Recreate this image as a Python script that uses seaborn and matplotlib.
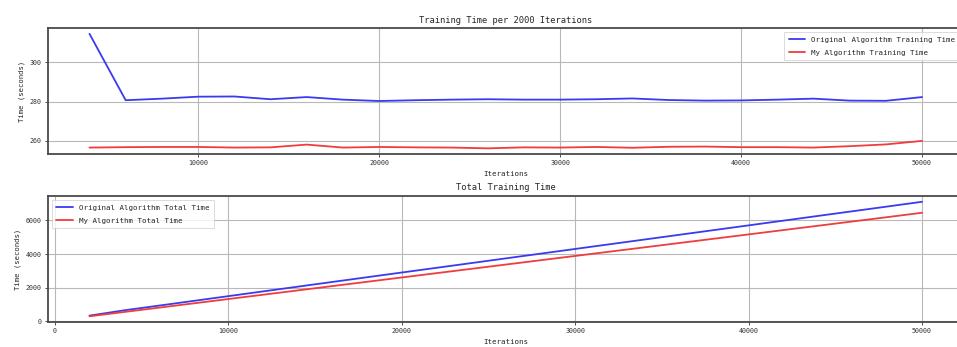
import numpy as np
import pandas as pd
import matplotlib
matplotlib.use("Agg")
import matplotlib.pyplot as plt
import seaborn as sns

# iterations for the per-2000 plot (first interval not drawn there)
iters_step = list(range(4000, 50001, 2000))
orig_step = [314.5, 280.7, 281.5, 282.5, 282.6, 281.2, 282.3, 281.0, 280.3, 280.7,
             281.0, 281.2, 281.0, 281.0, 281.2, 281.6, 280.8, 280.5, 280.6, 281.0,
             281.5, 280.5, 280.4, 282.3]
mine_step = [256.6, 256.8, 256.9, 256.9, 256.6, 256.7, 258.1, 256.6, 256.9, 256.7,
             256.6, 256.2, 256.7, 256.6, 256.9, 256.5, 257.0, 257.1, 256.8, 256.8,
             256.6, 257.3, 258.2, 260.0]

iters_total = list(range(2000, 50001, 2000))
orig_total = [330, 645, 925, 1207, 1489, 1772, 2053, 2335, 2616, 2897, 3177, 3458,
              3740, 4021, 4302, 4583, 4864, 5145, 5426, 5706, 5987, 6269, 6549,
              6830, 7112]
mine_total = [290, 547, 803, 1060, 1317, 1574, 1831, 2089, 2345, 2602, 2859, 3115,
              3372, 3628, 3885, 4142, 4398, 4655, 4912, 5169, 5426, 5683, 5940,
              6198, 6458]

sns.set_style("whitegrid")
plt.rcParams["font.family"] = ["DejaVu Sans Mono"]

BLUE = "#3a3af0"
RED = "#f03c3c"

fig = plt.figure(figsize=(9.57, 3.47), dpi=100)
ax1 = fig.add_axes([0.050, 0.556, 0.957, 0.363])
ax2 = fig.add_axes([0.050, 0.072, 0.957, 0.363])

df1 = pd.DataFrame({"it": iters_step, "orig": orig_step, "mine": mine_step})
sns.lineplot(data=df1, x="it", y="orig", ax=ax1, color=BLUE, lw=1.3,
             label="Original Algorithm Training Time")
sns.lineplot(data=df1, x="it", y="mine", ax=ax1, color=RED, lw=1.3,
             label="My Algorithm Training Time")
ax1.set_title("Training Time per 2000 Iterations", fontsize=6.3, pad=4)
ax1.set_xticks([10000, 20000, 30000, 40000, 50000])
ax1.set_yticks([260, 280, 300])

df2 = pd.DataFrame({"it": iters_total, "orig": orig_total, "mine": mine_total})
sns.lineplot(data=df2, x="it", y="orig", ax=ax2, color=BLUE, lw=1.3,
             label="Original Algorithm Total Time")
sns.lineplot(data=df2, x="it", y="mine", ax=ax2, color=RED, lw=1.3,
             label="My Algorithm Total Time")
ax2.set_title("Total Training Time", fontsize=6.3, pad=4)
ax2.set_xticks([0, 10000, 20000, 30000, 40000, 50000])
ax2.set_yticks([0, 2000, 4000, 6000])

for ax, loc in [(ax1, "upper right"), (ax2, "upper left")]:
    ax.set_xlabel("Iterations", fontsize=5.4, labelpad=3.5)
    ax.set_ylabel("Time (seconds)", fontsize=5.2, labelpad=3)
    ax.tick_params(axis="both", labelsize=4.8, length=2.5, width=0.6,
                   left=True, bottom=True, pad=2, colors="#333333")
    ax.grid(True, color="#b8b8b8", lw=0.8)
    for s in ax.spines.values():
        s.set_color("#4a4a4a")
        s.set_linewidth(1.3)
    leg = ax.legend(loc=loc, fontsize=5.4, frameon=True, fancybox=False,
                    handlelength=2.2, borderpad=0.6, labelspacing=0.9)
    leg.get_frame().set_edgecolor("#cccccc")
    leg.get_frame().set_linewidth(0.6)

fig.savefig("out.png", dpi=100)
